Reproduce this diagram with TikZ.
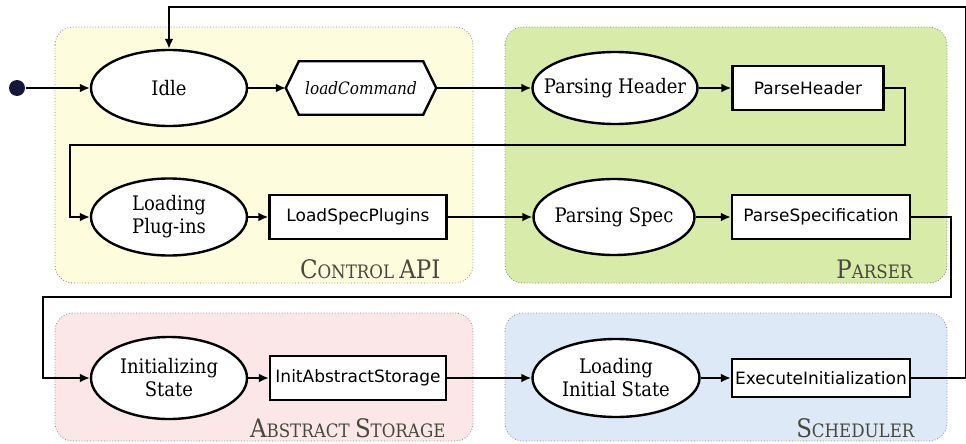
\documentclass[tikz,border=0pt]{standalone}
\usepackage{fontspec}
\setmainfont{DejaVu Serif Condensed}
\setsansfont{DejaVu Sans}
\usetikzlibrary{shapes.geometric,arrows.meta,backgrounds}
\definecolor{apibg}{RGB}{253,253,222}
\definecolor{parserbg}{RGB}{217,235,168}
\definecolor{storagebg}{RGB}{251,231,231}
\definecolor{schedbg}{RGB}{221,233,246}
\definecolor{panelgray}{RGB}{72,72,60}
\definecolor{startdot}{RGB}{22,22,58}
\newcommand\capbig[1]{{\fontsize{25.5}{25.5}\selectfont #1}}

\begin{document}
\begin{tikzpicture}[x=1pt, y=-1pt, line width=2.4pt,
    >={Latex[length=10pt,width=9pt]},
    state/.style={ellipse, draw, fill=white, align=center, inner xsep=-30pt, inner ysep=-12pt, minimum width=156pt, minimum height=76pt, font=\fontsize{20}{23}\selectfont},
    action/.style={rectangle, draw, fill=white, inner xsep=2pt, minimum height=44pt, font=\sffamily\fontsize{17}{19}\selectfont},
    panel/.style={draw=black!50, dotted, line width=0.8pt, rounded corners=18pt},
    panel label/.style={anchor=base east, text=panelgray, font=\fontsize{18.5}{20}\selectfont}
  ]
  \def\rowa{88}
  \def\rowb{217}
  \def\rowc{378}
  \useasboundingbox (0,0) rectangle (966,444);

  \node [circle, fill=startdot, minimum size=16pt, inner sep=0pt] (start) at (17,\rowa) {};
  \node [state] (idle) at (169,\rowa) {Idle};
  \node [minimum width=148pt, minimum height=51pt, inner sep=0pt, font=\itshape\fontsize{17}{19}\selectfont] (loadcmd) at (361,\rowa) {};
  \draw [fill=white] (loadcmd.west) -- ([xshift=13pt]loadcmd.north west) -- ([xshift=-13pt]loadcmd.north east) -- (loadcmd.east) -- ([xshift=-13pt]loadcmd.south east) -- ([xshift=13pt]loadcmd.south west) -- cycle;
  \node [font=\itshape\fontsize{17}{19}\selectfont] (loadcmdtext) at (loadcmd) {loadCommand};
  \node [state, minimum width=165pt, minimum height=72pt] (parsinghdr) at (615,\rowa) {Parsing Header};
  \node [action, minimum width=151pt] (parsehdr) at (808,\rowa) {ParseHeader};

  \node [state, minimum height=77pt] (loadplugins) at (169,\rowb) {Loading\\Plug-ins};
  \node [action, minimum width=177pt] (loadspec) at (358,\rowb) {LoadSpecPlugins};
  \node [state, minimum width=161pt] (parsingspec) at (614,\rowb) {Parsing Spec};
  \node [action, minimum width=178pt] (parsespec) at (821,\rowb) {ParseSpecification};

  \node [state, minimum height=82pt] (initstate) at (169,\rowc) {Initializing\\State};
  \node [action, minimum width=176pt] (initstorage) at (358,\rowc) {InitAbstractStorage};
  \node [state, minimum width=167pt, minimum height=78pt] (loadinit) at (616,\rowc) {Loading\\Initial State};
  \node [action, minimum width=178pt, minimum height=38pt] (execinit) at (821,\rowc) {ExecuteInitialization};

  \coordinate (loopt) at (966,7);
  \coordinate (bendar) at (905,145);
  \coordinate (bendal) at (70,145);
  \coordinate (bendbr) at (951,297);
  \coordinate (bendbl) at (43,297);

  \draw [->] (start) -- (idle);
  \draw [->] (idle) -- (loadcmd.west);
  \draw [->] (loadcmd.east) -- (parsinghdr);
  \draw [->] (parsinghdr) -- (parsehdr);
  \draw [->] (parsehdr) -| (bendar) -- (bendal) |- (loadplugins);
  \draw [->] (loadplugins) -- (loadspec);
  \draw [->] (loadspec) -- (parsingspec);
  \draw [->] (parsingspec) -- (parsespec);
  \draw [->] (parsespec) -| (bendbr) -- (bendbl) |- (initstate);
  \draw [->] (initstate) -- (initstorage);
  \draw [->] (initstorage) -- (loadinit);
  \draw [->] (loadinit) -- (execinit);
  \draw [->] (execinit) -| (loopt) -| (idle);

  \node [panel label] (apilabel) at (445,278) {\capbig{C}ONTROL \capbig{API}};
  \node [panel label] (parserlabel) at (917,278) {\capbig{P}ARSER};
  \node [panel label] (storagelabel) at (450,437) {\capbig{A}BSTRACT \capbig{S}TORAGE};
  \node [panel label] (schedlabel) at (919,437) {\capbig{S}CHEDULER};

  \begin{pgfonlayer}{background}
    \path [panel, fill=apibg] (55,27) rectangle (473,283);
    \path [panel, fill=parserbg] (505,27) rectangle (947,283);
    \path [panel, fill=storagebg] (55,313) rectangle (473,441);
    \path [panel, fill=schedbg] (505,313) rectangle (947,441);
  \end{pgfonlayer}
\end{tikzpicture}
\end{document}
